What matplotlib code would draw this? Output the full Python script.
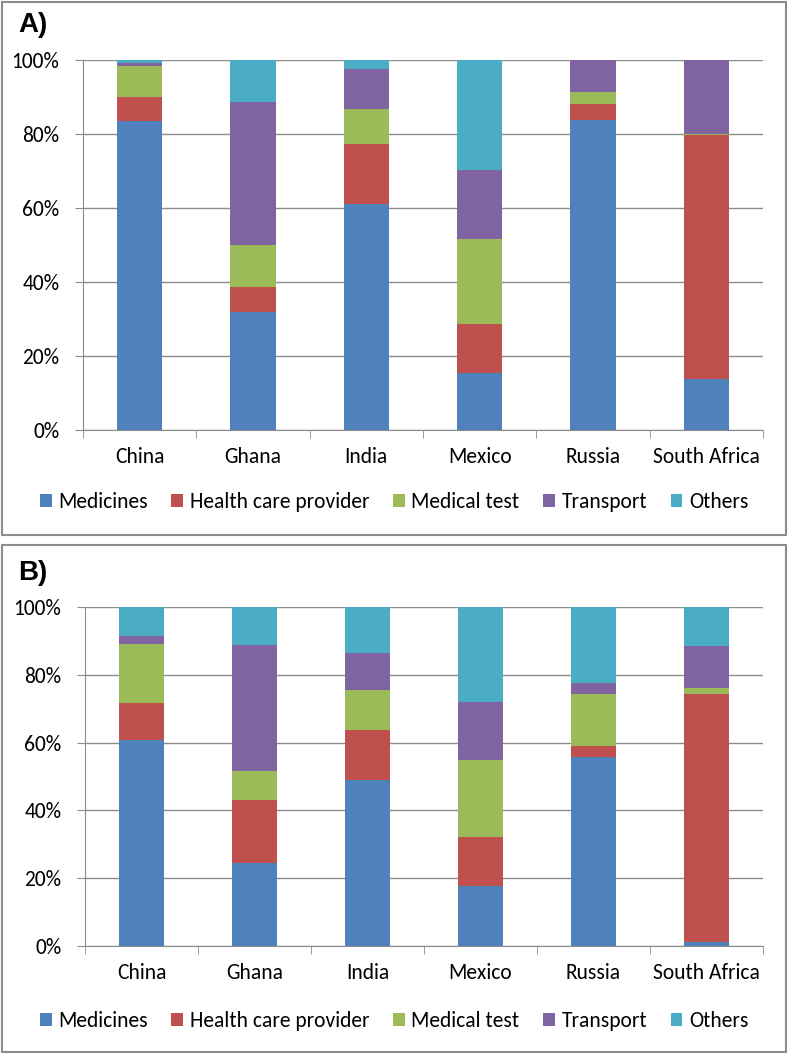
import numpy as np
import matplotlib
matplotlib.use('Agg')
import matplotlib.pyplot as plt
from matplotlib.patches import Patch, Rectangle
from matplotlib.ticker import FixedLocator, PercentFormatter

# Countries and cost categories
countries = ['China', 'Ghana', 'India', 'Mexico', 'Russia', 'South Africa']
categories = ['Medicines', 'Health care provider', 'Medical test', 'Transport', 'Others']
colors = ['#4F81BD', '#C0504D', '#9BBB59', '#8064A2', '#4BACC6']

# Panel A shares (%)
a_medicines = [83.6, 32.0, 61.1, 15.3, 83.8, 13.7]
a_provider = [6.3, 6.6, 16.1, 13.3, 4.2, 66.0]
a_test = [8.5, 11.3, 9.5, 23.0, 3.4, 0.3]
a_transport = [0.7, 38.7, 11.0, 18.7, 8.6, 20.0]
a_others = [0.9, 11.4, 2.3, 29.7, 0.0, 0.0]

# Panel B shares (%)
b_medicines = [60.7, 24.5, 49.1, 17.7, 55.8, 1.1]
b_provider = [11.0, 18.5, 14.5, 14.5, 3.2, 73.1]
b_test = [17.5, 8.6, 11.8, 22.6, 15.4, 1.8]
b_transport = [2.1, 37.3, 11.1, 17.2, 3.2, 12.6]
b_others = [8.7, 11.1, 13.5, 28.0, 22.4, 11.4]

# Calibri-like font, with fallbacks
font = ['Carlito', 'Calibri', 'Lato', 'DejaVu Sans']
fsize = 15.5
W, H = 788, 1055
fig = plt.figure(figsize=(W / 100, H / 100), dpi=100)


def px_box(x0, y0, x1, y1):
    # pixel box (top-left origin) -> figure fraction [l, b, w, h]
    return [x0 / W, 1 - y1 / H, (x1 - x0) / W, (y1 - y0) / H]


def draw_panel(box, frame, label, label_y, legend_y, series):
    ax = fig.add_axes(px_box(*box))
    x = np.arange(len(countries))
    bottom = np.zeros(len(countries))
    for vals, c in zip(series, colors):
        vals = np.array(vals) / 100
        ax.bar(x, vals, width=0.4, bottom=bottom, color=c, zorder=3)
        bottom += vals
    ax.set_xlim(-0.5, len(countries) - 0.5)
    ax.set_ylim(0, 1)
    ax.set_yticks(np.arange(0, 1.01, 0.2))
    ax.yaxis.set_major_formatter(PercentFormatter(1.0, decimals=0))
    ax.grid(axis='y', color='#8c8c8c', linewidth=1, zorder=0)
    ax.set_xticks(x)
    ax.set_xticklabels(countries, family=font, fontsize=fsize)
    ax.xaxis.set_minor_locator(FixedLocator(np.arange(-0.5, len(countries), 1)))
    ax.tick_params(axis='x', which='major', length=0, pad=12)
    ax.tick_params(axis='x', which='minor', length=6, color='#8c8c8c', direction='out')
    ax.tick_params(axis='y', length=6, color='#8c8c8c', pad=11, labelsize=fsize)
    for t in ax.get_yticklabels():
        t.set_family(font)
    for s in ['top', 'right']:
        ax.spines[s].set_visible(False)
    for s in ['left', 'bottom']:
        ax.spines[s].set_color('#8c8c8c')
        ax.spines[s].set_zorder(4)

    # panel frame
    x0, y0, x1, y1 = frame
    fig.add_artist(Rectangle((x0 / W, 1 - y1 / H), (x1 - x0) / W, (y1 - y0) / H,
                             transform=fig.transFigure, fill=False,
                             edgecolor='#8c8c8c', linewidth=1.5))
    fig.text(18 / W, 1 - label_y / H, label, fontsize=20, fontweight='bold',
             family='Liberation Sans', va='center', ha='left')

    handles = [Patch(facecolor=c, label=n) for c, n in zip(colors, categories)]
    fig.legend(handles=handles, loc='center', bbox_to_anchor=(0.5, 1 - legend_y / H),
               ncol=5, frameon=False, handlelength=0.55, handleheight=0.55,
               handletextpad=0.3, columnspacing=1.1,
               prop={'family': font, 'size': fsize})


draw_panel((83, 60, 763, 430), (2, 2, 786, 535), 'A)', 25, 502,
           [a_medicines, a_provider, a_test, a_transport, a_others])
draw_panel((85, 607, 763, 946), (2, 545, 786, 1052), 'B)', 573, 1021,
           [b_medicines, b_provider, b_test, b_transport, b_others])

fig.savefig('out.png', dpi=100)
